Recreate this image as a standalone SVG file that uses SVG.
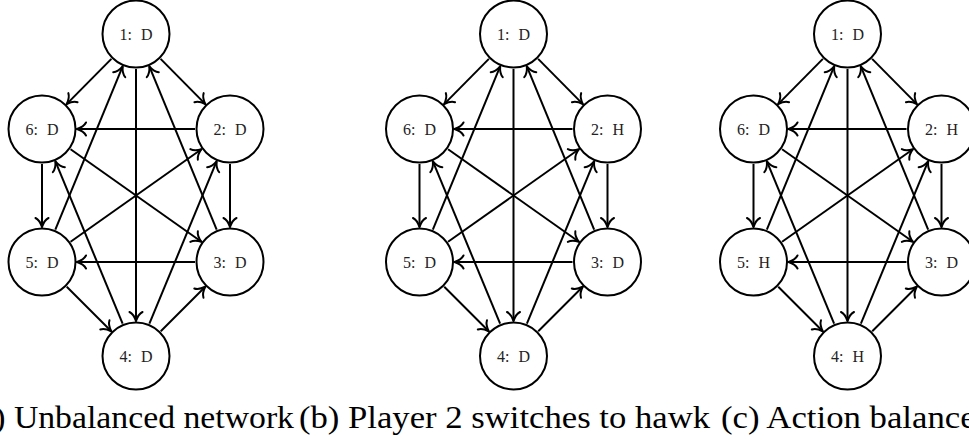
<svg xmlns="http://www.w3.org/2000/svg" width="969" height="440" viewBox="0 0 969 440">
<style>
.n circle{fill:#fff;stroke:#000;stroke-width:2}
.n text{font-family:"Liberation Serif",serif;font-size:16px;fill:#222;text-anchor:middle;word-spacing:5px}
.e line{stroke:#000;stroke-width:2;fill:none;marker-end:url(#ah)}
.cap{font-family:"Liberation Serif",serif;font-size:31px;fill:#000}
</style>
<defs>
<marker id="ah" markerUnits="userSpaceOnUse" viewBox="-12 -9 14 18" refX="0" refY="0" markerWidth="14" markerHeight="18" orient="auto">
<path d="M-9,-6.5 C-7.5,-3.5 -3,-1 0,0 C-3,1 -7.5,3.5 -9,6.5" fill="none" stroke="#000" stroke-width="2" stroke-linecap="round"/>
</marker>
</defs>

<g id="panel-a">
<g id="edges-a" class="e">
<line x1="111.38" y1="58.88" x2="66.62" y2="104.12"/>
<line x1="160.62" y1="58.88" x2="205.38" y2="104.12"/>
<line x1="195" y1="129" x2="77" y2="129"/>
<line x1="55.34" y1="229.64" x2="122.66" y2="66.36"/>
<line x1="216.66" y1="229.64" x2="149.34" y2="66.36"/>
<line x1="136" y1="69" x2="136" y2="321"/>
<line x1="42" y1="164" x2="42" y2="227"/>
<line x1="230" y1="164" x2="230" y2="227"/>
<line x1="122.61" y1="323.66" x2="55.39" y2="161.34"/>
<line x1="149.39" y1="323.66" x2="216.61" y2="161.34"/>
<line x1="70.57" y1="241.79" x2="201.43" y2="149.21"/>
<line x1="70.57" y1="149.21" x2="201.43" y2="241.79"/>
<line x1="195" y1="262" x2="77" y2="262"/>
<line x1="66.75" y1="286.75" x2="111.25" y2="331.25"/>
<line x1="160.75" y1="331.25" x2="205.25" y2="286.75"/>
</g>
<g id="a-n1" class="n"><circle cx="136" cy="34" r="33.5"/><text x="136" y="39.5">1: D</text></g>
<g id="a-n2" class="n"><circle cx="230" cy="129" r="33.5"/><text x="230" y="134.5">2: D</text></g>
<g id="a-n3" class="n"><circle cx="230" cy="262" r="33.5"/><text x="230" y="267.5">3: D</text></g>
<g id="a-n4" class="n"><circle cx="136" cy="356" r="33.5"/><text x="136" y="361.5">4: D</text></g>
<g id="a-n5" class="n"><circle cx="42" cy="262" r="33.5"/><text x="42" y="267.5">5: D</text></g>
<g id="a-n6" class="n"><circle cx="42" cy="129" r="33.5"/><text x="42" y="134.5">6: D</text></g>
</g>

<g id="panel-b" transform="translate(377.5,0)">
<g id="edges-b" class="e">
<line x1="111.38" y1="58.88" x2="66.62" y2="104.12"/>
<line x1="160.62" y1="58.88" x2="205.38" y2="104.12"/>
<line x1="195" y1="129" x2="77" y2="129"/>
<line x1="55.34" y1="229.64" x2="122.66" y2="66.36"/>
<line x1="216.66" y1="229.64" x2="149.34" y2="66.36"/>
<line x1="136" y1="69" x2="136" y2="321"/>
<line x1="42" y1="164" x2="42" y2="227"/>
<line x1="230" y1="164" x2="230" y2="227"/>
<line x1="122.61" y1="323.66" x2="55.39" y2="161.34"/>
<line x1="149.39" y1="323.66" x2="216.61" y2="161.34"/>
<line x1="70.57" y1="241.79" x2="201.43" y2="149.21"/>
<line x1="70.57" y1="149.21" x2="201.43" y2="241.79"/>
<line x1="195" y1="262" x2="77" y2="262"/>
<line x1="66.75" y1="286.75" x2="111.25" y2="331.25"/>
<line x1="160.75" y1="331.25" x2="205.25" y2="286.75"/>
</g>
<g id="b-n1" class="n"><circle cx="136" cy="34" r="33.5"/><text x="136" y="39.5">1: D</text></g>
<g id="b-n2" class="n"><circle cx="230" cy="129" r="33.5"/><text x="230" y="134.5">2: H</text></g>
<g id="b-n3" class="n"><circle cx="230" cy="262" r="33.5"/><text x="230" y="267.5">3: D</text></g>
<g id="b-n4" class="n"><circle cx="136" cy="356" r="33.5"/><text x="136" y="361.5">4: D</text></g>
<g id="b-n5" class="n"><circle cx="42" cy="262" r="33.5"/><text x="42" y="267.5">5: D</text></g>
<g id="b-n6" class="n"><circle cx="42" cy="129" r="33.5"/><text x="42" y="134.5">6: D</text></g>
</g>

<g id="panel-c" transform="translate(711.5,0)">
<g id="edges-c" class="e">
<line x1="111.38" y1="58.88" x2="66.62" y2="104.12"/>
<line x1="160.62" y1="58.88" x2="205.38" y2="104.12"/>
<line x1="195" y1="129" x2="77" y2="129"/>
<line x1="55.34" y1="229.64" x2="122.66" y2="66.36"/>
<line x1="216.66" y1="229.64" x2="149.34" y2="66.36"/>
<line x1="136" y1="69" x2="136" y2="321"/>
<line x1="42" y1="164" x2="42" y2="227"/>
<line x1="230" y1="164" x2="230" y2="227"/>
<line x1="122.61" y1="323.66" x2="55.39" y2="161.34"/>
<line x1="149.39" y1="323.66" x2="216.61" y2="161.34"/>
<line x1="70.57" y1="241.79" x2="201.43" y2="149.21"/>
<line x1="70.57" y1="149.21" x2="201.43" y2="241.79"/>
<line x1="195" y1="262" x2="77" y2="262"/>
<line x1="66.75" y1="286.75" x2="111.25" y2="331.25"/>
<line x1="160.75" y1="331.25" x2="205.25" y2="286.75"/>
</g>
<g id="c-n1" class="n"><circle cx="136" cy="34" r="33.5"/><text x="136" y="39.5">1: D</text></g>
<g id="c-n2" class="n"><circle cx="230" cy="129" r="33.5"/><text x="230" y="134.5">2: H</text></g>
<g id="c-n3" class="n"><circle cx="230" cy="262" r="33.5"/><text x="230" y="267.5">3: D</text></g>
<g id="c-n4" class="n"><circle cx="136" cy="356" r="33.5"/><text x="136" y="361.5">4: H</text></g>
<g id="c-n5" class="n"><circle cx="42" cy="262" r="33.5"/><text x="42" y="267.5">5: H</text></g>
<g id="c-n6" class="n"><circle cx="42" cy="129" r="33.5"/><text x="42" y="134.5">6: D</text></g>
</g>

<g id="captions">
<text class="cap" x="-32" y="428" textLength="326" lengthAdjust="spacingAndGlyphs">(a) Unbalanced network</text>
<text class="cap" x="299" y="428" textLength="411" lengthAdjust="spacingAndGlyphs">(b) Player 2 switches to hawk</text>
<text class="cap" x="721" y="428" textLength="272" lengthAdjust="spacingAndGlyphs">(c) Action balanced</text>
</g>
</svg>
